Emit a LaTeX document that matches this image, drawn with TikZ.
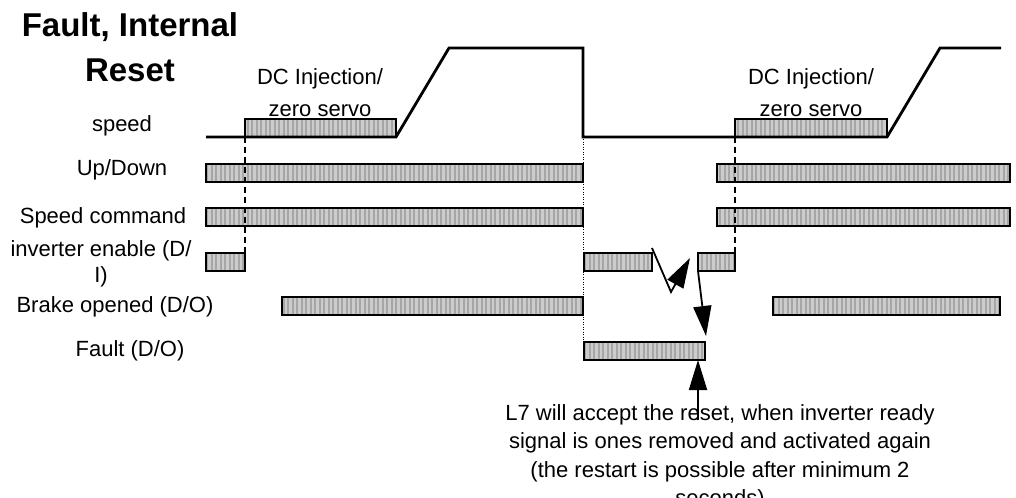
\documentclass[tikz,border=0pt]{standalone}
\usepackage{fontspec}
\setmainfont{Liberation Sans}
\usetikzlibrary{arrows.meta,patterns.meta}
\tikzset{
  sigbar/.style={preaction={fill=black!20}, pattern={Lines[angle=90,distance=4.5bp,line width=2bp]}, pattern color=black!35, draw, line width=1.6bp},
  trace/.style={line width=2.8bp},
  bigtip/.style={line width=1.8bp, -{Triangle[length=30bp,width=18bp]}},
  lbl/.style={anchor=base, align=center}
}
\begin{document}
\begin{tikzpicture}[x=1bp, y=-1bp, font=\fontsize{22bp}{26bp}\selectfont]
  \def\lo{137}
  \def\hi{48}
  \useasboundingbox (0,0) rectangle (1016,498);
  \node[lbl, font=\bfseries\fontsize{33bp}{45bp}\selectfont] (title) at (130,82) {Fault, Internal\\Reset};
  \node[lbl] (speed) at (122,132) {speed};
  \node[lbl] (updown) at (122,176) {Up/Down};
  \node[lbl] (cmd) at (103,224) {Speed command};
  \node[lbl] (enable) at (101,283) {inverter enable (D/\\I)};
  \node[lbl] (brake) at (115,313) {Brake opened (D/O)};
  \node[lbl] (fault) at (130,357) {Fault (D/O)};
  \node[lbl, font=\fontsize{22bp}{32bp}\selectfont] (dcfirst) at (320,117) {DC Injection/\\zero servo};
  \node[lbl, font=\fontsize{22bp}{32bp}\selectfont] (dcsecond) at (811,117) {DC Injection/\\zero servo};
  \draw[sigbar] (245,119) rectangle (396,\lo);
  \draw[sigbar] (735,119) rectangle (887,\lo);
  \draw[trace] (206,\lo) -- (396,\lo) -- (449,\hi) -- (583,\hi) -- (583,\lo) -- (887,\lo) -- (940,\hi) -- (1001,\hi);
  \draw[sigbar] (206,164) rectangle (583,182);
  \draw[sigbar] (717,164) rectangle (1010,182);
  \draw[sigbar] (206,208) rectangle (583,226);
  \draw[sigbar] (717,208) rectangle (1010,226);
  \draw[sigbar] (206,253) rectangle (245,271);
  \draw[sigbar] (584,253) rectangle (652,271);
  \draw[sigbar] (698,253) rectangle (735,271);
  \draw[sigbar] (282,297) rectangle (583,315);
  \draw[sigbar] (773,297) rectangle (1000,315);
  \draw[sigbar] (584,342) rectangle (705,360);
  \draw[line width=1.4bp, dash pattern=on 6bp off 4bp] (245,\lo) -- (245,253);
  \draw[line width=1.4bp, dash pattern=on 6bp off 4bp] (735,\lo) -- (735,253);
  \draw[line width=0.6bp, dash pattern=on 1bp off 1.5bp] (583.5,\lo) -- (583.5,342);
  \coordinate (zzstart) at (652,248);
  \coordinate (zzlow) at (671,292);
  \coordinate (zzend) at (690,258);
  \coordinate (dnstart) at (698,271);
  \coordinate (dnend) at (706,336);
  \coordinate (upstart) at (698,420);
  \coordinate (upend) at (698,360);
  \draw[bigtip] (zzstart) -- (zzlow) -- (zzend);
  \draw[bigtip] (dnstart) -- (dnend);
  \node[lbl, font=\fontsize{22bp}{28.5bp}\selectfont] (note) at (720,505.5) {L7 will accept the reset, when inverter ready\\signal is ones removed and activated again\\(the restart is possible after minimum 2\\seconds)};
  \draw[bigtip] (upstart) -- (upend);
\end{tikzpicture}
\end{document}
